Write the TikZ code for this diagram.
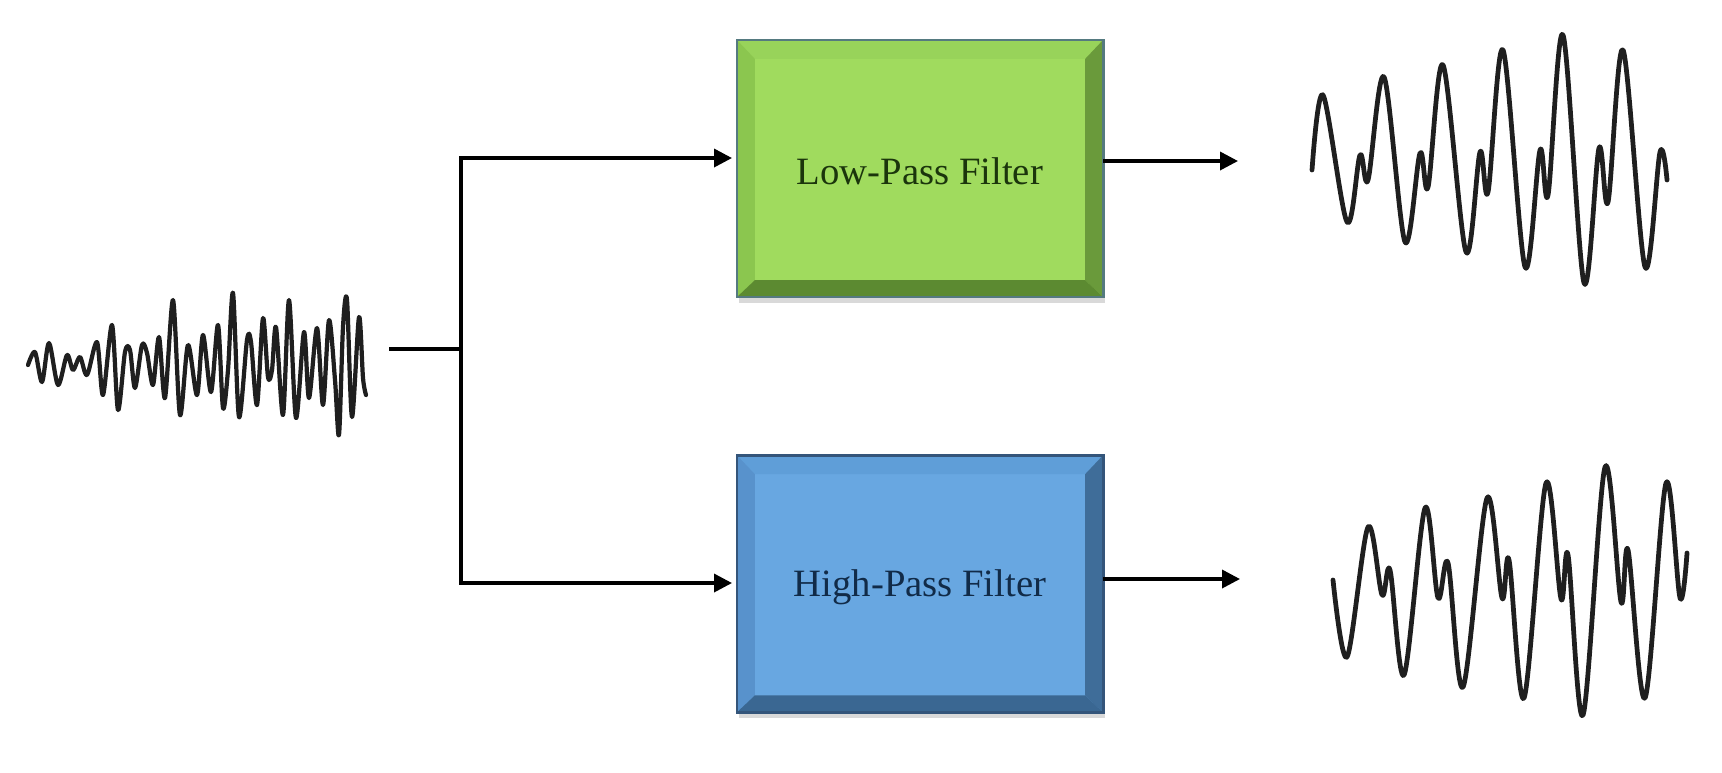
\documentclass[tikz,border=0pt]{standalone}
\usepackage{fontspec}
\setmainfont{Liberation Serif}
\definecolor{lpface}{HTML}{A0DB5E}
\definecolor{lptop}{HTML}{98D35A}
\definecolor{lpleft}{HTML}{8BC64F}
\definecolor{lpright}{HTML}{6A9A3B}
\definecolor{lpbot}{HTML}{5C8A31}
\definecolor{lpline}{HTML}{557A80}
\definecolor{lptext}{HTML}{1B350C}
\definecolor{hpface}{HTML}{68A7E1}
\definecolor{hptop}{HTML}{5F9ED8}
\definecolor{hpleft}{HTML}{5892CC}
\definecolor{hpright}{HTML}{3F6D99}
\definecolor{hpbot}{HTML}{3A6792}
\definecolor{hpline}{HTML}{34557A}
\definecolor{hptext}{HTML}{112B48}
\usetikzlibrary{arrows.meta,positioning,shadows}

% bevel edges of a box node: #1 node name, #2 colour prefix
\newcommand{\bevelfill}[2]{%
  \fill[#2top] (#1.north west) -- (#1.north east) -- ([shift={(-18,19)}]#1.north east) -- ([shift={(18,19)}]#1.north west) -- cycle;
  \fill[#2left] (#1.north west) -- ([shift={(18,19)}]#1.north west) -- ([shift={(18,-17)}]#1.south west) -- (#1.south west) -- cycle;
  \fill[#2right] (#1.north east) -- ([shift={(-18,19)}]#1.north east) -- ([shift={(-18,-17)}]#1.south east) -- (#1.south east) -- cycle;
  \fill[#2bot] (#1.south west) -- ([shift={(18,-17)}]#1.south west) -- ([shift={(-18,-17)}]#1.south east) -- (#1.south east) -- cycle;
  \draw[#2line,line width=0.8pt] (#1.north west) rectangle (#1.south east);
}

\begin{document}
\begin{tikzpicture}[x=0.01cm,y=-0.01cm,
  fbox/.style={minimum width=3.66cm,minimum height=2.57cm,outer sep=0pt,inner sep=0pt,
    drop shadow={shadow xshift=0.02cm,shadow yshift=-0.06cm,opacity=0.15,fill=black}},
  lpbox/.style={fbox,fill=lpface},
  hpbox/.style={fbox,fill=hpface},
  lab/.style={font=\fontsize{11}{13}\selectfont},
  wire/.style={line width=1pt,black},
  arr/.style={wire,-{Triangle[length=1.8mm,width=1.8mm]}},
  wave/.style={line width=1.35pt,black!88,line join=round,line cap=round}]
\useasboundingbox (0,0) rectangle (1722,772);

% filter blocks
\node[lpbox] (lpf) at (920,168.5) {};
\node[hpbox,below=1.58cm of lpf] (hpf) {};
\bevelfill{lpf}{lp}
\bevelfill{hpf}{hp}
\node[lab,text=lptext] (lplab) at ([yshift=-0.03cm]lpf.center) {Low-Pass Filter};
\node[lab,text=hptext] (hplab) at ([yshift=-0.03cm]hpf.center) {High-Pass Filter};

% connectors
\coordinate (sigin) at (389,349);
\coordinate (split) at (461,349);
\coordinate (lpin) at (732,158);
\coordinate (hpin) at (732,583);
\coordinate (lpout) at (1238,161);
\coordinate (hpout) at (1240,579);
\draw[wire] (sigin) -- (split);
\draw[arr] (split) |- (lpin);
\draw[arr] (split) |- (hpin);
\draw[arr] (lpf.east |- lpout) -- (lpout);
\draw[arr] (hpf.east |- hpout) -- (hpout);

% input signal
\draw[wave,line width=1.2pt] plot[smooth,tension=.5] coordinates {
  (28,365) (35,352) (42,382) (49,343) (58,385) (67,355) (73,370) (80,357)
  (87,375) (97,342) (103,395) (112,325) (118,410) (125,352) (130,350)
  (135,388) (142,345) (147,353) (153,385) (159,337) (165,398) (173,300)
  (180,415) (188,345) (197,395) (203,335) (211,392) (218,325) (223,408)
  (228,370) (233,293) (239,417) (247,340) (251,342) (257,405) (263,318)
  (268,377) (272,370) (276,327) (283,415) (289,300) (296,418) (304,332)
  (309,398) (317,328) (323,405) (329,320) (335,380) (339,435) (343,327)
  (347,300) (352,417) (359,317) (363,378) (366,395)};

% low-pass output
\draw[wave] plot[smooth,tension=.55] coordinates {
  (1312,170) (1323,95) (1347,222) (1360,155) (1368,180) (1384,77) (1405,242)
  (1420,153) (1428,187) (1443,65) (1466,252) (1480,152) (1488,192) (1503,50)
  (1525,267) (1540,150) (1548,195) (1563,35) (1584,283) (1599,148) (1608,202)
  (1623,50) (1645,267) (1660,152) (1667,180)};

% high-pass output
\draw[wave] plot[smooth,tension=.55] coordinates {
  (1333,580) (1347,657) (1368,527) (1382,595) (1390,570) (1404,675) (1425,508)
  (1438,598) (1448,563) (1463,687) (1487,498) (1502,598) (1509,560) (1524,698)
  (1546,483) (1561,599) (1568,555) (1583,715) (1605,467) (1621,602) (1628,550)
  (1645,698) (1666,483) (1680,598) (1687,553)};
\end{tikzpicture}
\end{document}
